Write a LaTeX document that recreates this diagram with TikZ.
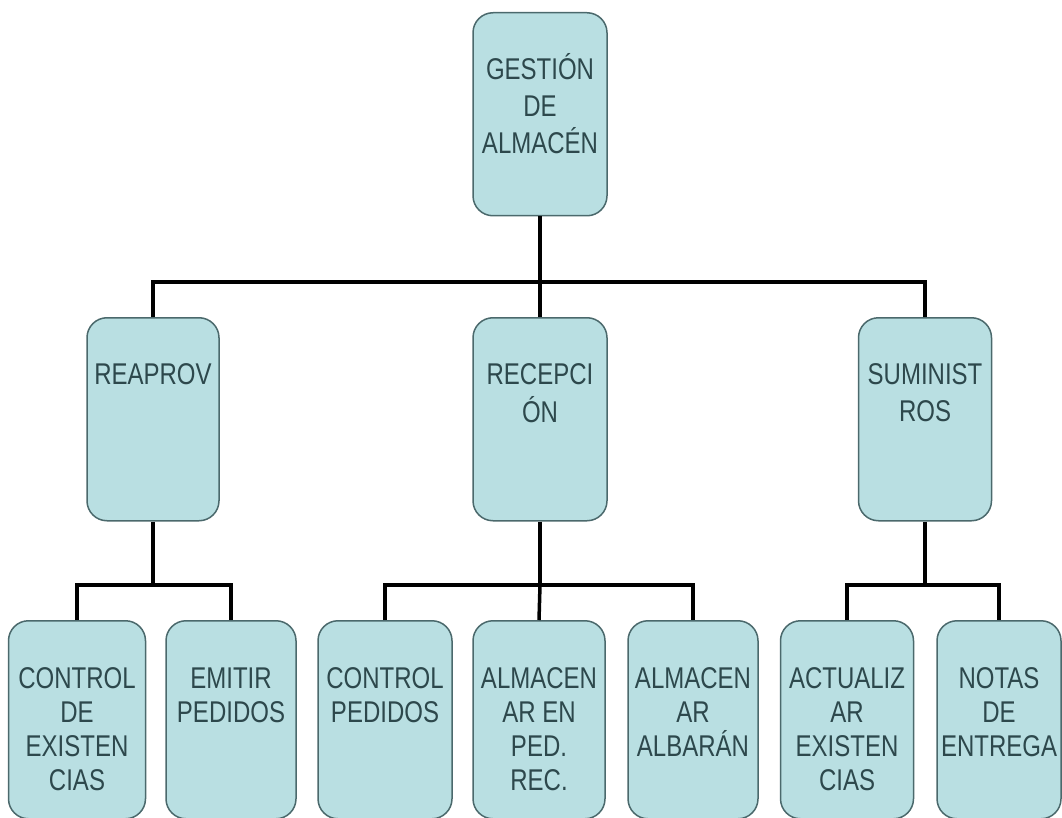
\documentclass[tikz,border=0pt]{standalone}
\usepackage{fontspec}
\newfontfamily\boxfont[FakeStretch=0.8]{Liberation Sans}
\definecolor{boxfill}{RGB}{185,223,226}
\definecolor{boxline}{RGB}{75,105,108}
\definecolor{boxtext}{RGB}{45,72,76}
\begin{document}
\begin{tikzpicture}[x=1pt,y=-1pt,
  box/.style={draw=boxline,line width=1.5pt,fill=boxfill,rounded corners=20pt,
    minimum width=#1,minimum height=203pt,anchor=north,inner sep=0pt},
  lowbox/.style={draw=boxline,line width=1.5pt,fill=boxfill,rounded corners=20pt,
    minimum width=#1,minimum height=198pt,anchor=north,inner sep=0pt},
  lbl/.style={font=\boxfont\fontsize{30}{37}\selectfont,text=boxtext,align=center,
    anchor=north,inner sep=0pt},
  lowlbl/.style={lbl,font=\boxfont\fontsize{30}{34}\selectfont},
  conn/.style={line width=3.5pt,black}]
\useasboundingbox (0,0) rectangle (1062,818);
% top
\node[box=134pt] (top) at (540,12) {};
\node[lbl] (ttop) at (540,53) {\strut GESTIÓN\\DE\\ALMACÉN};
% middle row
\node[box=132pt] (rea) at (153,317) {};
\node[lbl] (trea) at (153,358) {\strut REAPROV};
\node[box=134pt] (rec) at (540,317) {};
\node[lbl] (trec) at (540,358) {\strut RECEPCI\\ÓN};
\node[box=133pt] (sum) at (925,317) {};
\node[lbl] (tsum) at (925,358) {\strut SUMINIST\\ROS};
% bottom row
\node[lowbox=137pt] (b1) at (77,620) {};
\node[lowlbl] (tb1) at (77,664) {\strut CONTROL\\DE\\EXISTEN\\CIAS};
\node[lowbox=130pt] (b2) at (231,620) {};
\node[lowlbl] (tb2) at (231,664) {\strut EMITIR\\PEDIDOS};
\node[lowbox=134pt] (b3) at (385,620) {};
\node[lowlbl] (tb3) at (385,664) {\strut CONTROL\\PEDIDOS};
\node[lowbox=132pt] (b4) at (539,620) {};
\node[lowlbl] (tb4) at (539,664) {\strut ALMACEN\\AR EN\\PED.\\REC.};
\node[lowbox=130pt] (b5) at (693,620) {};
\node[lowlbl] (tb5) at (693,664) {\strut ALMACEN\\AR\\ALBARÁN};
\node[lowbox=133pt] (b6) at (847,620) {};
\node[lowlbl] (tb6) at (847,664) {\strut ACTUALIZ\\AR\\EXISTEN\\CIAS};
\node[lowbox=124pt] (b7) at (999,620) {};
\node[lowlbl] (tb7) at (999,664) {\strut NOTAS\\DE\\ENTREGA};
% connectors
\coordinate (j0) at (540,282);
\coordinate (j1) at (153,585);
\coordinate (j2) at (540,585);
\coordinate (j3) at (925,585);
\draw[conn] (top.south) -- (j0);
\draw[conn] (rea.north) |- (j0) -| (sum.north);
\draw[conn] (j0) -- (rec.north);
\draw[conn] (rea.south) -- (j1);
\draw[conn] (b1.north) |- (j1) -| (b2.north);
\draw[conn] (rec.south) -- (j2);
\draw[conn] (b3.north) |- (j2) -| (b5.north);
\draw[conn] (j2) -- (b4.north);
\draw[conn] (sum.south) -- (j3);
\draw[conn] (b6.north) |- (j3) -| (b7.north);
\end{tikzpicture}
\end{document}
